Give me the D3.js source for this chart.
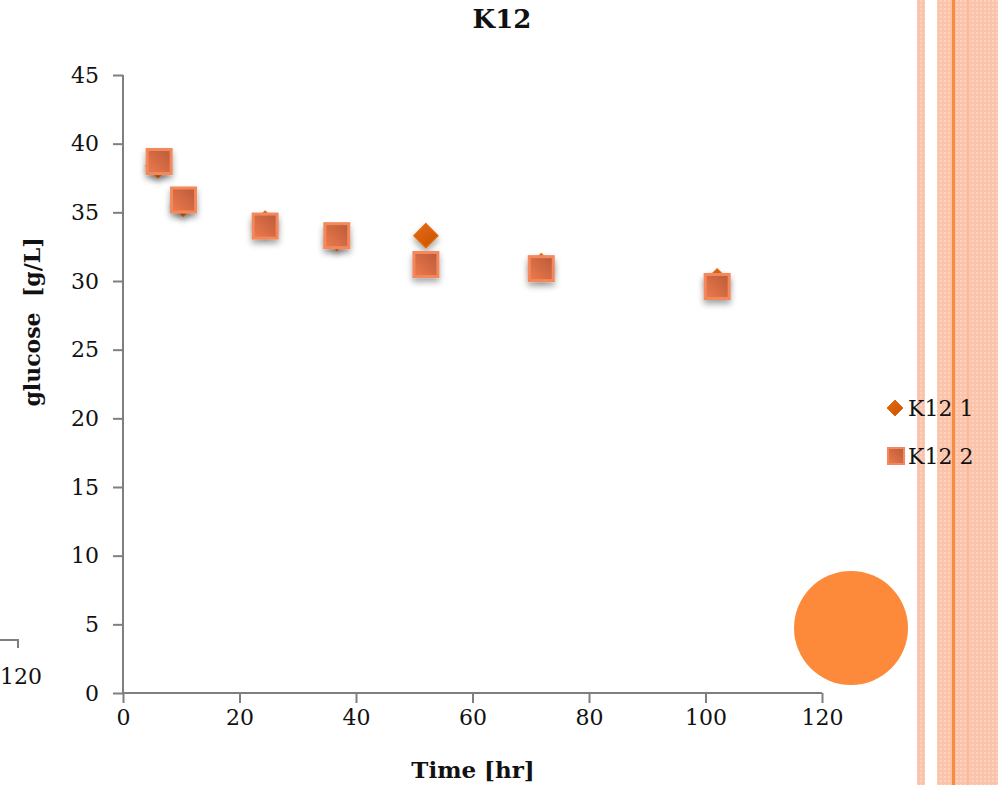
<!DOCTYPE html>
<html>
<head>
<meta charset="utf-8">
<script src="https://cdn.jsdelivr.net/npm/d3@7"></script>
<style>
  body { margin: 0; background: #fff; }
  svg text { font-family: "DejaVu Serif", "Liberation Serif", serif; fill: #111; }
</style>
</head>
<body>
<svg id="chart" width="998" height="785"></svg>
<script>
// data
var timeK12_1 = [6, 10.3, 24.4, 36.7, 52, 71.8, 102];
var glucoseK12_1 = [38.4, 35.6, 34.2, 33.1, 33.3, 31.1, 30.0];
var timeK12_2 = [6.2, 10.4, 24.4, 36.7, 52, 71.8, 102];
var glucoseK12_2 = [38.7, 35.9, 34.0, 33.3, 31.2, 30.9, 29.6];
var xTicks = [0, 20, 40, 60, 80, 100, 120];
var yTicks = [0, 5, 10, 15, 20, 25, 30, 35, 40, 45];
var seriesNames = ["K12 1", "K12 2"];

var svg = d3.select("#chart");
var defs = svg.append("defs");

// square gradient + drop shadow
var grad = defs.append("linearGradient").attr("id", "sqGrad")
  .attr("x1", "0").attr("y1", "1").attr("x2", "1").attr("y2", "0");
grad.append("stop").attr("offset", "0").attr("stop-color", "#ef7a4c");
grad.append("stop").attr("offset", "1").attr("stop-color", "#b95a3a");
var dgrad = defs.append("linearGradient").attr("id", "dmGrad")
  .attr("x1", "0").attr("y1", "0").attr("x2", "1").attr("y2", "1");
dgrad.append("stop").attr("offset", "0").attr("stop-color", "#e86a10");
dgrad.append("stop").attr("offset", "1").attr("stop-color", "#c85200");
var sh = defs.append("filter").attr("id", "shadow")
  .attr("x", "-50%").attr("y", "-50%").attr("width", "200%").attr("height", "200%");
sh.append("feDropShadow").attr("dx", 0).attr("dy", 4).attr("stdDeviation", 3)
  .attr("flood-color", "#000").attr("flood-opacity", 0.35);

// stripe pattern for the right-hand decoration
var pat = defs.append("pattern").attr("id", "dots").attr("patternUnits", "userSpaceOnUse")
  .attr("width", 4).attr("height", 4);
pat.append("rect").attr("width", 4).attr("height", 4).attr("fill", "#fbc3aa");
pat.append("rect").attr("width", 2).attr("height", 2).attr("fill", "#fcd3c0");

svg.append("rect").attr("x", 917).attr("y", 0).attr("width", 8).attr("height", 785).attr("fill", "url(#dots)");
svg.append("rect").attr("x", 937).attr("y", 0).attr("width", 61).attr("height", 785).attr("fill", "url(#dots)");
svg.append("rect").attr("x", 967).attr("y", 0).attr("width", 2).attr("height", 785).attr("fill", "#f9b898");
svg.append("rect").attr("x", 952).attr("y", 0).attr("width", 3).attr("height", 785).attr("fill", "#fd8a3a");

// leftover fragment of a neighbouring chart
svg.append("path").attr("d", "M0,640H18V648").attr("fill", "none")
  .attr("stroke", "#7f7f7f").attr("stroke-width", 2);
svg.append("text").attr("x", 21).attr("y", 684).attr("text-anchor", "middle")
  .attr("font-size", 22).text("120");

// orange circle
svg.append("circle").attr("cx", 851).attr("cy", 628).attr("r", 57).attr("fill", "#fd8a3a");

var x = d3.scaleLinear().domain([0, 120]).range([123, 822]);
var y = d3.scaleLinear().domain([0, 45]).range([693, 75]);

var xAxis = svg.append("g").attr("transform", "translate(0,693)")
  .call(d3.axisBottom(x).tickValues(xTicks).tickSize(10).tickPadding(6));
var yAxis = svg.append("g").attr("transform", "translate(123,0)")
  .call(d3.axisLeft(y).tickValues(yTicks).tickSize(10).tickPadding(14));
[xAxis, yAxis].forEach(function (g) {
  g.attr("font-size", 22).attr("font-family", null);
  g.select(".domain").attr("stroke", "#7f7f7f").attr("stroke-width", 2);
  g.selectAll(".tick line").attr("stroke", "#7f7f7f").attr("stroke-width", 2);
  g.selectAll(".tick text").attr("font-size", 22).attr("fill", "#111");
});
xAxis.select(".domain").attr("d", "M123,0H822");
yAxis.select(".domain").attr("d", "M0,75V693");

svg.append("text").attr("x", 502).attr("y", 28).attr("text-anchor", "middle")
  .attr("font-size", 26).attr("font-weight", "bold").text("K12");
svg.append("text").attr("x", 473).attr("y", 778).attr("text-anchor", "middle")
  .attr("font-size", 23).attr("font-weight", "bold").text("Time [hr]");
svg.append("text").attr("transform", "translate(40,322) rotate(-90)").attr("text-anchor", "middle")
  .attr("font-size", 22).attr("font-weight", "bold").attr("xml:space", "preserve").text("glucose  [g/L]");

function diamondPath(cx, cy, r) {
  return "M" + cx + "," + (cy - r) + "L" + (cx + r) + "," + cy + "L" + cx + "," + (cy + r) + "L" + (cx - r) + "," + cy + "Z";
}

// series 1: diamonds
svg.append("g").selectAll("path").data(d3.range(timeK12_1.length)).join("path")
  .attr("d", function (i) { return diamondPath(x(timeK12_1[i]), y(glucoseK12_1[i]), 12); })
  .attr("fill", "url(#dmGrad)").attr("stroke", "#e06a10").attr("stroke-width", 1.5)
  .attr("filter", "url(#shadow)");

// series 2: squares
svg.append("g").selectAll("rect").data(d3.range(timeK12_2.length)).join("rect")
  .attr("x", function (i) { return x(timeK12_2[i]) - 12; })
  .attr("y", function (i) { return y(glucoseK12_2[i]) - 12; })
  .attr("width", 24).attr("height", 24)
  .attr("fill", "url(#sqGrad)").attr("stroke", "#f3885c").attr("stroke-width", 3)
  .attr("filter", "url(#shadow)");

// legend
var lg = svg.append("g");
lg.append("path").attr("d", diamondPath(895, 408, 8)).attr("fill", "url(#dmGrad)").attr("stroke", "#e06a10");
lg.append("rect").attr("x", 888).attr("y", 448).attr("width", 16).attr("height", 16)
  .attr("fill", "url(#sqGrad)").attr("stroke", "#f3885c").attr("stroke-width", 2);
lg.selectAll("text").data(seriesNames).join("text")
  .attr("x", 908).attr("y", function (d, i) { return 416 + i * 48; })
  .attr("font-size", 22).text(function (d) { return d; });
</script>
</body>
</html>
